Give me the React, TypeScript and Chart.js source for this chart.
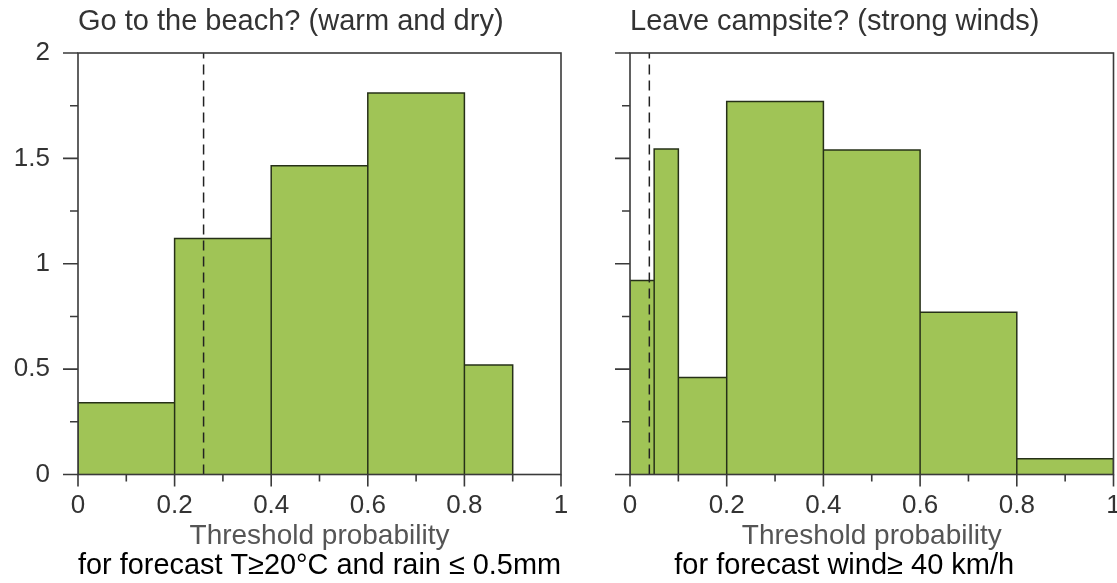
import React, { useEffect, useRef } from 'react';
import { Chart, registerables } from 'chart.js';

Chart.register(...registerables);

// ---------- data ----------
const beachTitle = 'Go to the beach? (warm and dry)';
const beachCaption = 'for forecast T≥20°C and rain ≤ 0.5mm';
const beachBinEdges = [0, 0.2, 0.4, 0.6, 0.8, 0.9];
const beachDensity = [0.34, 1.12, 1.465, 1.81, 0.52];
const beachThreshold = 0.26;

const windTitle = 'Leave campsite? (strong winds)';
const windCaption = 'for forecast wind≥ 40 km/h';
const windBinEdges = [0, 0.05, 0.1, 0.2, 0.4, 0.6, 0.8, 1.0];
const windDensity = [0.92, 1.545, 0.46, 1.77, 1.54, 0.77, 0.075];
const windThreshold = 0.04;

const xAxisTitle = 'Threshold probability';
const xTickValues = [0, 0.1, 0.2, 0.3, 0.4, 0.5, 0.6, 0.7, 0.8, 0.9, 1];
const xTickLabels = ['0', '', '0.2', '', '0.4', '', '0.6', '', '0.8', '', '1'];
const yTickValues = [0, 0.25, 0.5, 0.75, 1, 1.25, 1.5, 1.75, 2];
const yTickLabels = ['0', '', '0.5', '', '1', '', '1.5', '', '2'];
const yTickLabelsBlank = ['', '', '', '', '', '', '', '', ''];

// ---------- style ----------
const FONT = "'Liberation Sans', Arial, Helvetica, sans-serif";
const BAR_FILL = '#a0c456';
const BAR_EDGE = '#263018';
const FRAME = '#3a3a3a';
const W = 1117;
const H = 583;

function histogramPoints(edges: number[], density: number[]) {
  const pts: { x: number; y: number }[] = [];
  for (let i = 0; i < density.length; i++) {
    pts.push({ x: edges[i], y: 0 });
    pts.push({ x: edges[i], y: density[i] });
    pts.push({ x: edges[i + 1], y: density[i] });
    pts.push({ x: edges[i + 1], y: 0 });
  }
  return pts;
}

const axisDecor = {
  id: 'axisDecor',
  afterDraw(chart: any) {
    const { ctx, chartArea: a, scales } = chart;
    ctx.save();
    ctx.strokeStyle = FRAME;
    ctx.lineWidth = 1.6;
    ctx.strokeRect(a.left, a.top, a.right - a.left, a.bottom - a.top);
    ctx.beginPath();
    scales.x.ticks.forEach((t: any, i: number) => {
      const px = scales.x.getPixelForValue(t.value);
      const len = xTickLabels[i] ? 12 : 7;
      ctx.moveTo(px, a.bottom);
      ctx.lineTo(px, a.bottom + len);
    });
    scales.y.ticks.forEach((t: any, i: number) => {
      const py = scales.y.getPixelForValue(t.value);
      const len = yTickLabels[i] ? 15 : 8;
      ctx.moveTo(a.left, py);
      ctx.lineTo(a.left - len, py);
    });
    ctx.stroke();
    ctx.restore();
  },
};

type PanelProps = {
  title: string;
  caption: string;
  edges: number[];
  density: number[];
  threshold: number;
  showYLabels: boolean;
  yAxisWidth: number;
  padRight: number;
  width: number;
  left: number;
  captionFullSize: boolean;
};

function Panel(p: PanelProps) {
  const ref = useRef<HTMLCanvasElement | null>(null);
  useEffect(() => {
    if (!ref.current) return;
    const yMax = yTickValues[yTickValues.length - 1];
    const chart = new Chart(ref.current, {
      type: 'line',
      data: {
        datasets: [
          {
            data: [
              { x: p.threshold, y: 0 },
              { x: p.threshold, y: yMax },
            ],
            borderColor: '#222',
            borderWidth: 1.5,
            borderDash: [10, 6],
            pointRadius: 0,
            fill: false,
          },
          {
            data: histogramPoints(p.edges, p.density),
            borderColor: BAR_EDGE,
            borderWidth: 1.5,
            backgroundColor: BAR_FILL,
            pointRadius: 0,
            tension: 0,
            fill: 'origin',
          },
        ],
      },
      options: {
        animation: false,
        responsive: false,
        events: [],
        layout: { padding: { top: 0, right: p.padRight, bottom: 0, left: 0 } },
        plugins: {
          legend: { display: false },
          tooltip: { enabled: false },
          title: {
            display: true,
            text: p.title,
            align: 'start',
            fullSize: false,
            color: '#333',
            font: { family: FONT, size: 29, weight: 'normal', lineHeight: 1.2 },
            padding: { top: 4.6, bottom: 13.6 },
          },
          subtitle: {
            display: true,
            text: p.caption,
            position: 'bottom',
            fullSize: p.captionFullSize,
            align: 'center',
            color: '#000',
            font: { family: FONT, size: 29, weight: 'normal', lineHeight: 1.2 },
            padding: 0,
          },
        },
        scales: {
          x: {
            type: 'linear',
            min: 0,
            max: 1,
            afterBuildTicks: (s: any) => {
              s.ticks = xTickValues.map((v) => ({ value: v }));
            },
            afterFit: (s: any) => {
              s.height = 73.7;
              s.paddingLeft = 0;
              s.paddingRight = 0;
            },
            ticks: {
              callback: (_v: any, i: number) => xTickLabels[i],
              autoSkip: false,
              maxRotation: 0,
              color: '#333',
              padding: 16,
              font: { family: FONT, size: 26 },
            },
            grid: { display: false, drawTicks: false },
            border: { display: false },
            title: {
              display: true,
              text: xAxisTitle,
              color: '#555',
              font: { family: FONT, size: 28, lineHeight: 1 },
              padding: { top: 0, bottom: -2 },
            },
          },
          y: {
            type: 'linear',
            min: 0,
            max: yMax,
            afterBuildTicks: (s: any) => {
              s.ticks = yTickValues.map((v) => ({ value: v }));
            },
            afterFit: (s: any) => {
              s.width = p.yAxisWidth;
            },
            ticks: {
              callback: (_v: any, i: number) => (p.showYLabels ? yTickLabels : yTickLabelsBlank)[i],
              autoSkip: false,
              color: '#333',
              padding: 28,
              font: { family: FONT, size: 26 },
            },
            grid: { display: false, drawTicks: false },
            border: { display: false },
          },
        },
      },
      plugins: [axisDecor],
    } as any);
    return () => chart.destroy();
  }, []);
  return (
    <canvas
      ref={ref}
      width={p.width}
      height={H}
      style={{ position: 'absolute', left: p.left, top: 0, width: p.width, height: H }}
    />
  );
}

export default function App() {
  return (
    <div
      style={{
        position: 'absolute',
        left: 0,
        top: 0,
        width: W,
        height: H,
        overflow: 'hidden',
        background: '#fff',
      }}
    >
      <Panel
        title={beachTitle}
        caption={beachCaption}
        edges={beachBinEdges}
        density={beachDensity}
        threshold={beachThreshold}
        showYLabels={true}
        yAxisWidth={78}
        padRight={14}
        width={575}
        left={0}
        captionFullSize={false}
      />
      <Panel
        title={windTitle}
        caption={windCaption}
        edges={windBinEdges}
        density={windDensity}
        threshold={windThreshold}
        showYLabels={false}
        yAxisWidth={55}
        padRight={21.5}
        width={560}
        left={575}
        captionFullSize={true}
      />
    </div>
  );
}
